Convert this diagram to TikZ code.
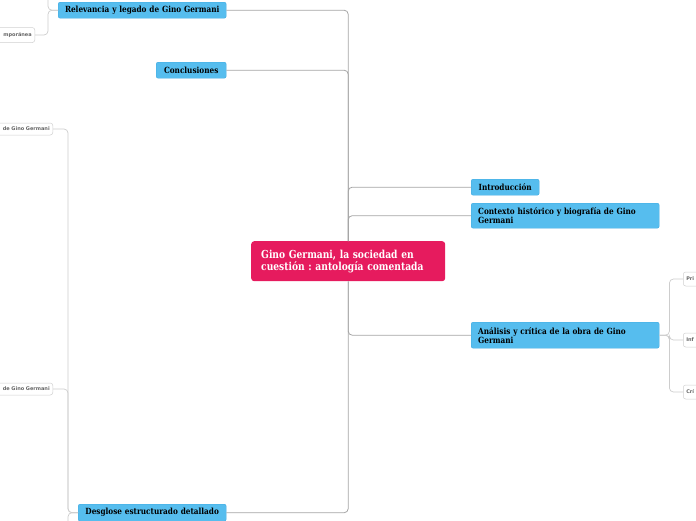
\documentclass[tikz,border=0pt]{standalone}
\usepackage{fontspec}
\newfontfamily\slab[FakeStretch=0.86]{DejaVu Serif}
\newfontfamily\slabmain[FakeStretch=0.83]{DejaVu Serif}
\setsansfont{DejaVu Sans}
\definecolor{crim}{RGB}{230,27,94}
\definecolor{sky}{RGB}{86,189,238}
\definecolor{skyd}{RGB}{64,170,225}
\definecolor{conn}{RGB}{165,165,165}
\definecolor{connl}{RGB}{205,205,205}
\tikzset{
 mainbox/.style={fill=crim, rounded corners=3pt, text=white, font=\slabmain\bfseries\fontsize{11}{12}\selectfont, anchor=north west, minimum height=40pt, text width=174pt, inner xsep=10pt, inner ysep=0pt, align=left},
 bluebox/.style={draw=skyd, line width=0.4pt, fill=sky, rounded corners=2pt, font=\slab\bfseries\fontsize{8.5}{9}\selectfont, anchor=north west, inner xsep=7pt, inner ysep=0pt},
 smallbox/.style={draw=black!18, line width=0.5pt, fill=white, rounded corners=2.5pt, font=\sffamily\bfseries\fontsize{5}{5.5}\selectfont, text=black!60, inner xsep=3pt, inner ysep=0pt, minimum height=14pt},
 link/.style={draw=conn, line width=0.8pt, rounded corners=4pt},
 sublink/.style={draw=connl, line width=0.7pt, rounded corners=4pt},
}
\begin{document}
\frenchspacing
\begin{tikzpicture}[x=1pt,y=-1pt]
\useasboundingbox (0,0) rectangle (696,520);
% nodes
\node[mainbox] (main) at (251,241) {Gino Germani, la sociedad en\\cuestión : antología comentada};
\node[bluebox, inner xsep=2pt, text width=164pt, minimum height=16pt, align=center] (rel) at (58,2) {Relevancia y legado de Gino Germani};
\node[bluebox, text width=56pt, minimum height=16pt, align=center] (concl) at (156,62) {Conclusiones};
\node[bluebox, text width=54pt, minimum height=16pt, align=center] (intro) at (471,179) {Introducción};
\node[bluebox, text width=174pt, minimum height=25pt, align=left] (ctx) at (471,203) {Contexto histórico y biografía de Gino\\Germani};
\node[bluebox, text width=174pt, minimum height=26pt, align=left] (anal) at (471,322) {Análisis y crítica de la obra de Gino\\Germani};
\node[bluebox, inner xsep=2pt, text width=144pt, minimum height=17pt, align=center] (desg) at (78,504) {Desglose estructurado detallado};
\node[smallbox, anchor=east, text width=60pt, align=right, minimum height=15pt] (l1) at (35,35) {mporánea};
\node[smallbox, anchor=east, text width=70pt, align=right, minimum height=12pt] (l2) at (53,129) {de Gino Germani};
\node[smallbox, anchor=east, text width=70pt, align=right, minimum height=12pt] (l3) at (53,389) {de Gino Germani};
\node[smallbox, anchor=west, text width=30pt, align=left] (r1) at (683,279) {Pri};
\node[smallbox, anchor=west, text width=30pt, align=left] (r2) at (683,340) {Inf};
\node[smallbox, anchor=west, text width=30pt, align=left] (r3) at (683,392) {Crí};
\coordinate (relup) at (48,-6);
\coordinate (desgdown) at (68,530);
% connectors
\draw[link] (main.north) |- (rel.east);
\draw[link] (main.north) |- (concl.east);
\draw[link] (main.north) |- (intro.west);
\draw[link] (main.north) |- (ctx.west);
\draw[link] (main.south) |- (anal.west);
\draw[link] (main.south) |- (desg.east);
\draw[sublink] (rel.west) -| (relup);
\draw[sublink] (rel.west) -- ++(-10,0) |- (l1.east);
\draw[sublink] (desg.west) -| (desgdown);
\draw[sublink] (desg.west) -- ++(-10,0) |- (l2.east);
\draw[sublink] (desg.west) -- ++(-10,0) |- (l3.east);
\draw[sublink] (anal.east) -- ++(10,0) |- (r1.west);
\draw[sublink] (anal.east) -- ++(10,0) |- (r2.west);
\draw[sublink] (anal.east) -- ++(10,0) |- (r3.west);
\end{tikzpicture}
\end{document}
